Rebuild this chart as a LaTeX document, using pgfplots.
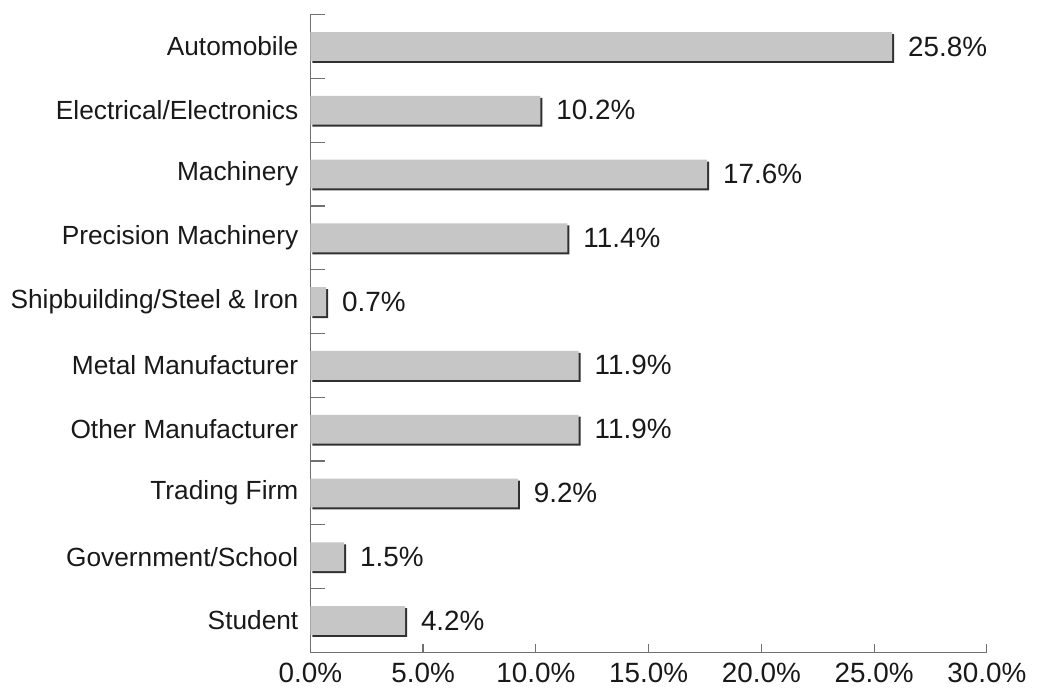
\documentclass[border={2pt 1pt 2pt 7pt}]{standalone}
\usepackage{fontspec}
\setmainfont{Liberation Sans}
\usepackage{pgfplots}
\pgfplotsset{compat=1.18}

\definecolor{barfill}{HTML}{C6C6C6}
\definecolor{baredge}{HTML}{303030}
\definecolor{axisgray}{HTML}{707070}

\begin{document}
\begin{tikzpicture}
\begin{axis}[
  scale only axis,
  width=340pt,
  height=320.5pt,
  xmin=0, xmax=30,
  ymin=-0.5, ymax=9.5,
  y dir=reverse,
  axis x line*=bottom,
  axis y line*=left,
  axis line style={axisgray, line width=0.7pt},
  xtick={0,5,...,30},
  xticklabel={\pgfmathprintnumber[fixed,fixed zerofill,precision=1]{\tick}\%},
  ytick={0,...,9},
  yticklabels={Automobile,Electrical/Electronics,Machinery,Precision Machinery,
    Shipbuilding/Steel \& Iron,Metal Manufacturer,Other Manufacturer,
    Trading Firm,Government/School,Student},
  minor ytick={-0.5,0.5,...,8.5},
  tick align=inside,
  major tick length=4pt,
  minor tick length=7.5pt,
  major y tick style={draw=none},
  tick style={axisgray, line width=0.6pt},
  yticklabel style={font=\fontsize{13.2}{16}\selectfont, text=black!90, xshift=-2.5pt},
  xticklabel style={font=\fontsize{14}{16}\selectfont, text=black!90, yshift=-2pt},
  /pgf/number format/assume math mode=true,
  clip=false,
]

% shadow edge (bottom and right)
\addplot[xbar, bar width=14.5pt, fill=baredge, draw=none, xshift=1pt, yshift=-1pt]
  coordinates {
  (25.8,0) (10.2,1) (17.6,2) (11.4,3) (0.7,4)
  (11.9,5) (11.9,6) (9.2,7) (1.5,8) (4.2,9)
};

% bars
\addplot[xbar, bar width=14.5pt, fill=barfill, draw=none,
  nodes near coords={\pgfmathprintnumber[fixed,fixed zerofill,precision=1]{\pgfplotspointmeta}\%},
  every node near coord/.append style={font=\fontsize{14}{16}\selectfont, text=black!90, xshift=4.5pt}]
  coordinates {
  (25.8,0) (10.2,1) (17.6,2) (11.4,3) (0.7,4)
  (11.9,5) (11.9,6) (9.2,7) (1.5,8) (4.2,9)
};

\end{axis}
\end{tikzpicture}
\end{document}
